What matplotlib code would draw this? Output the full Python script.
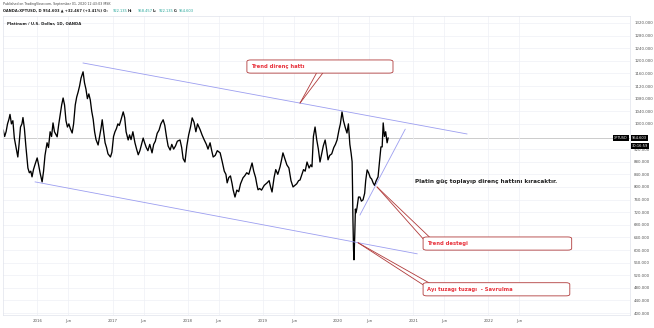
import matplotlib
matplotlib.use('Agg')
import matplotlib.pyplot as plt
import matplotlib.transforms as mtransforms
from matplotlib.patches import FancyBboxPatch
import pandas as pd

# XPTUSD closes (roughly weekly)
dates = [
    '2015-07-20', '2015-07-27', '2015-08-03', '2015-08-10', '2015-08-17', '2015-08-22', '2015-08-29',
    '2015-09-05', '2015-09-12', '2015-09-19', '2015-09-29', '2015-10-05', '2015-10-12', '2015-10-19',
    '2015-10-24', '2015-10-31', '2015-11-07', '2015-11-14', '2015-11-17', '2015-11-24', '2015-12-01',
    '2015-12-07', '2015-12-14', '2015-12-21', '2016-01-01', '2016-01-08', '2016-01-15', '2016-01-25',
    '2016-02-01', '2016-02-08', '2016-02-18', '2016-02-25', '2016-03-04', '2016-03-11', '2016-03-18',
    '2016-03-25', '2016-04-07', '2016-04-14', '2016-04-22', '2016-04-29', '2016-05-06', '2016-05-13',
    '2016-05-20', '2016-05-27', '2016-06-03', '2016-06-10', '2016-06-19', '2016-06-26', '2016-07-04',
    '2016-07-11', '2016-07-18', '2016-07-25', '2016-08-01', '2016-08-11', '2016-08-18', '2016-08-25',
    '2016-09-01', '2016-09-08', '2016-09-15', '2016-09-22', '2016-09-29', '2016-10-06', '2016-10-13',
    '2016-10-23', '2016-10-30', '2016-11-06', '2016-11-12', '2016-11-19', '2016-11-26', '2016-12-03',
    '2016-12-10', '2016-12-22', '2016-12-29', '2017-01-06', '2017-01-13', '2017-01-20', '2017-01-27',
    '2017-02-03', '2017-02-10', '2017-02-22', '2017-03-01', '2017-03-08', '2017-03-18', '2017-03-25',
    '2017-04-01', '2017-04-10', '2017-04-20', '2017-04-28', '2017-05-06', '2017-05-14', '2017-05-22',
    '2017-05-30', '2017-06-06', '2017-06-14', '2017-06-22', '2017-07-01', '2017-07-12', '2017-07-20',
    '2017-07-28', '2017-08-06', '2017-08-15', '2017-08-24', '2017-09-04', '2017-09-12', '2017-09-20',
    '2017-09-28', '2017-10-08', '2017-10-16', '2017-10-25', '2017-11-03', '2017-11-12', '2017-11-25',
    '2017-12-03', '2017-12-10', '2017-12-19', '2017-12-28', '2018-01-06', '2018-01-15', '2018-01-23',
    '2018-02-01', '2018-02-10', '2018-02-18', '2018-03-03', '2018-03-12', '2018-03-22', '2018-04-02',
    '2018-04-10', '2018-04-20', '2018-04-28', '2018-05-05', '2018-05-15', '2018-05-25', '2018-06-08',
    '2018-06-18', '2018-06-28', '2018-07-06', '2018-07-12', '2018-07-20', '2018-07-28', '2018-08-05',
    '2018-08-10', '2018-08-19', '2018-08-28', '2018-09-06', '2018-09-15', '2018-09-27', '2018-10-05',
    '2018-10-15', '2018-10-25', '2018-11-03', '2018-11-10', '2018-11-18', '2018-11-27', '2018-12-04',
    '2018-12-09', '2018-12-17', '2018-12-26', '2019-01-08', '2019-01-22', '2019-02-01', '2019-02-08',
    '2019-02-15', '2019-02-25', '2019-03-05', '2019-03-15', '2019-03-26', '2019-04-02', '2019-04-09',
    '2019-04-18', '2019-04-28', '2019-05-08', '2019-05-18', '2019-05-28', '2019-06-06', '2019-06-15',
    '2019-06-24', '2019-07-01', '2019-07-10', '2019-07-18', '2019-07-26', '2019-08-04', '2019-08-14',
    '2019-08-22', '2019-08-28', '2019-09-04', '2019-09-12', '2019-09-20', '2019-09-28', '2019-10-06',
    '2019-10-14', '2019-10-22', '2019-10-31', '2019-11-07', '2019-11-14', '2019-11-22', '2019-12-02',
    '2019-12-12', '2019-12-20', '2019-12-28', '2020-01-06', '2020-01-13', '2020-01-21', '2020-01-28',
    '2020-02-05', '2020-02-14', '2020-02-21', '2020-02-28', '2020-03-05', '2020-03-10', '2020-03-12',
    '2020-03-14', '2020-03-17', '2020-03-19', '2020-03-23', '2020-03-26', '2020-03-29', '2020-04-03',
    '2020-04-10', '2020-04-17', '2020-04-24', '2020-05-02', '2020-05-10', '2020-05-15', '2020-05-22',
    '2020-05-29', '2020-06-06', '2020-06-13', '2020-06-20', '2020-06-27', '2020-07-05', '2020-07-14',
    '2020-07-21', '2020-07-28', '2020-08-03', '2020-08-08', '2020-08-14', '2020-08-20', '2020-08-27',
    '2020-09-01',
]
closes = [
    980, 960, 975, 1000, 1015, 1030, 1000,
    1010, 955, 930, 895, 935, 990, 1000,
    1020, 985, 930, 880, 860, 845, 850,
    832, 855, 870, 892, 870, 845, 816,
    850, 900, 940, 925, 975, 960, 1003,
    975, 959, 995, 1030, 1060, 1082, 1060,
    1010, 990, 1000, 985, 971, 1000, 1060,
    1085, 1101, 1120, 1145, 1165, 1130, 1110,
    1080, 1095, 1076, 1040, 1015, 975, 950,
    933, 960, 985, 1013, 975, 940, 925,
    905, 895, 910, 960, 975, 985, 1000,
    995, 1010, 1038, 1020, 975, 949, 965,
    950, 975, 940, 920, 902, 915, 935,
    955, 940, 925, 915, 935, 908, 935,
    945, 970, 980, 1000, 1013, 995, 960,
    930, 917, 935, 920, 930, 945, 949,
    925, 890, 879, 930, 965, 990, 1019,
    1005, 975, 1000, 981, 965, 950, 935,
    920, 940, 915, 895, 900, 915, 908,
    880, 850, 840, 813, 830, 835, 810,
    791, 768, 790, 785, 810, 829, 835,
    845, 840, 860, 876, 850, 830, 805,
    791, 795, 790, 805, 813, 820, 800,
    784, 830, 855, 840, 864, 885, 908,
    890, 870, 860, 820, 800, 805, 810,
    820, 822, 840, 855, 850, 879, 860,
    870, 864, 960, 990, 950, 920, 879,
    905, 930, 949, 920, 886, 900, 905,
    925, 935, 949, 980, 1000, 1038, 1010,
    990, 971, 1000, 935, 908, 880, 800,
    696, 600, 569, 650, 730, 718, 735,
    768, 768, 755, 759, 780, 820, 854,
    845, 830, 825, 813, 805, 820, 832,
    880, 927, 927, 1003, 960, 975, 940,
    955,
]
last_price = 954.603

# hand-drawn trend lines
resist_dates = ['2016-08-11', '2021-09-19']
resist_prices = [1193, 968]
support_dates = ['2015-12-22', '2021-01-20']
support_prices = [816, 588]
rising_dates = ['2020-04-17', '2020-11-23']
rising_prices = [711, 983]

# 960 sits behind the last-price tag in the original, so it has no label
price_ticks = [v for v in range(400, 1321, 40) if v != 960]
tick_dates = ['2016-01-01', '2016-06-01', '2017-01-01', '2017-06-01', '2018-01-01', '2018-06-01',
              '2019-01-01', '2019-06-01', '2020-01-01', '2020-06-01', '2021-01-01', '2021-06-01',
              '2022-01-01', '2022-06-01']
tick_labels = ['2016', 'Jun', '2017', 'Jun', '2018', 'Jun', '2019', 'Jun', '2020', 'Jun',
               '2021', 'Jun', '2022', 'Jun']

W, H = 654, 328
fig = plt.figure(figsize=(W / 100, H / 100), dpi=100)
ax = fig.add_axes([3 / W, 1 - 315 / H, 627 / W, 299 / H])

ax.plot(pd.to_datetime(dates), closes, color='black', lw=0.95)
lav = '#9c9ef0'
ax.plot(pd.to_datetime(resist_dates), resist_prices, color=lav, lw=0.6)
ax.plot(pd.to_datetime(support_dates), support_prices, color=lav, lw=0.6)
ax.plot(pd.to_datetime(rising_dates), rising_prices, color=lav, lw=0.6)
ax.axhline(last_price, color='#b8b8b8', lw=0.5, zorder=0)

ax.set_xlim(pd.Timestamp('2015-07-19'), pd.Timestamp('2023-11-20'))
ax.set_ylim(394, 1342)
ax.set_xticks(pd.to_datetime(tick_dates))
ax.set_xticklabels(tick_labels)
ax.set_yticks(price_ticks)
ax.set_yticklabels([f'{v:.3f}' for v in price_ticks])
ax.yaxis.tick_right()
ax.tick_params(length=0, labelsize=2.8, labelcolor='#555555', pad=3)
ax.grid(True, color='#eef0f5', lw=0.5)
ax.set_axisbelow(True)
for s in ax.spines.values():
    s.set_color('#e0e3eb')
    s.set_linewidth(0.5)

# header
fig.text(3 / W, 1 - 4 / H, 'Published on TradingView.com, September 01, 2020 12:43:03 MSK',
         fontsize=2.3, color='#444444', va='center')
fig.text(3 / W, 1 - 11 / H, 'OANDA:XPTUSD, D 954.603 \u25b2 +32.467 (+3.41%) O:',
         fontsize=2.6, color='#222222', va='center', weight='bold')
ohlc = [('922.135', 'H:'), ('958.457', 'L:'), ('922.135', 'C:'), ('954.603', '')]
xs = [113, 138, 159, 179]
for (val, nxt), x in zip(ohlc, xs):
    fig.text(x / W, 1 - 11 / H, val, fontsize=2.6, color='#26a69a', va='center')
    if nxt:
        fig.text((x + 15) / W, 1 - 11 / H, nxt, fontsize=2.6, color='#222222', va='center', weight='bold')
ax.text(0.007, 0.975, 'Platinum / U.S. Dollar, 1D, OANDA', transform=ax.transAxes,
        fontsize=2.8, color='#222222', va='center', weight='bold')

# price labels on the right
bl = mtransforms.blended_transform_factory(fig.transFigure, ax.transData)
tag = dict(boxstyle='square,pad=0.3', fc='black', ec='none')
ax.text(628 / W, last_price, 'XPTUSD', transform=bl, fontsize=2.4, color='white', ha='right',
        va='center', bbox=tag)
ax.text(632 / W, last_price, '954.603', transform=bl, fontsize=2.6, color='white', ha='left',
        va='center', bbox=tag)
ax.text(632 / W, last_price - 26, '30:16:59', transform=bl, fontsize=2.6, color='white', ha='left',
        va='center', bbox=tag, zorder=6)

# free text
ax.text((415 - 3) / 627, 1 - (181 - 16) / 299, 'Platin güç toplayıp direnç hattını kıracaktır.',
        transform=ax.transAxes, fontsize=4.15, color='#222222', va='center', weight='bold')

# callouts: box in axes fraction, tip in data
red = '#e8323c'
edge = '#b03a3a'
callouts = [
    ('Trend direnç hattı', (0.389, 0.809, 0.233, 0.044), ('2019-07-01', 1066),
     [(0.500, 0.809), (0.510, 0.809)]),
    ('Trend destegi', (0.670, 0.217, 0.237, 0.044), ('2020-07-09', 800),
     [(0.670, 0.255), (0.680, 0.261)]),
    ('Ayı tuzagı tuzagı  - Savrulma', (0.670, 0.064, 0.234, 0.044), ('2020-04-08', 623),
     [(0.670, 0.101), (0.680, 0.107)]),
]
for label, (bx, by, bw, bh), (tdate, tprice), bases in callouts:
    box = FancyBboxPatch((bx, by), bw, bh, boxstyle='round,pad=0,rounding_size=0.006',
                         transform=ax.transAxes, fc='white', ec=edge, lw=0.6, zorder=5)
    ax.add_patch(box)
    ax.text(bx + 0.006, by + bh / 2, label, transform=ax.transAxes, fontsize=3.8,
            color=red, weight='bold', va='center', zorder=6)
    for base in bases:
        ax.annotate('', xy=(pd.Timestamp(tdate), tprice), xycoords='data',
                    xytext=base, textcoords='axes fraction',
                    arrowprops=dict(arrowstyle='-', color=edge, lw=0.6, shrinkA=0, shrinkB=0),
                    zorder=4)

fig.savefig('out.png', dpi=100)
